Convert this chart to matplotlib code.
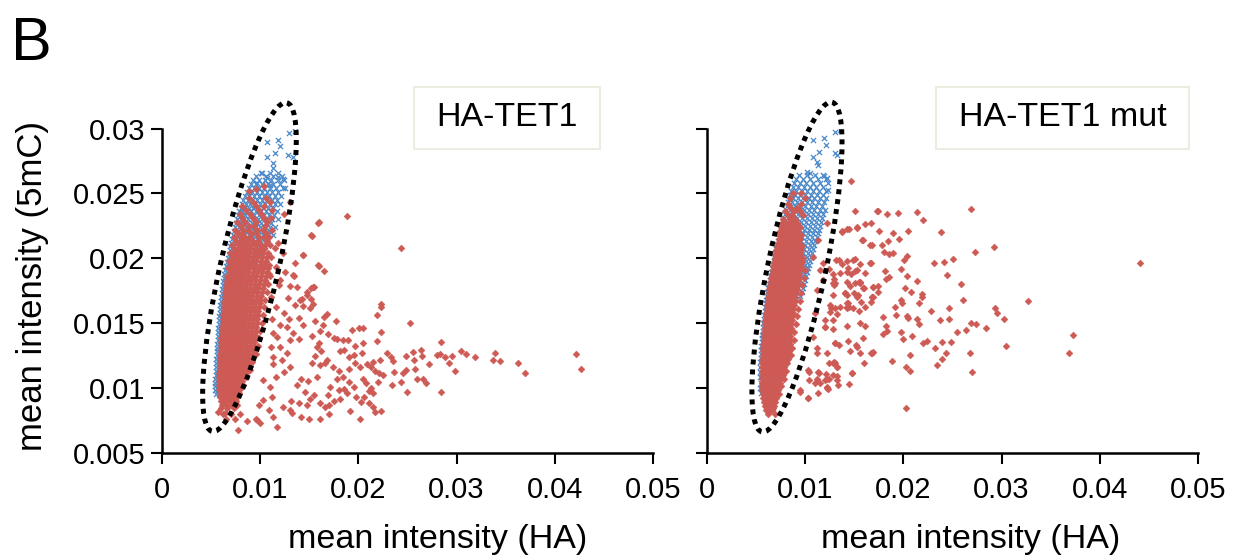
import matplotlib.pyplot as plt
from matplotlib.patches import Ellipse, Rectangle
from matplotlib.transforms import ScaledTranslation

plt.rcParams['font.family'] = ['Liberation Sans', 'DejaVu Sans']

# all intensities below are given in units of 1e-3

# ---- HA-TET1 ----
tet1_red_pts = [
    (18.8, 23.25), (15.95, 22.79), (15.17, 21.76), (24.3, 20.78), (14.39, 20.22), (15.95, 19.39),
    (16.46, 18.98), (13.47, 18.65), (15.47, 17.8), (15.2, 17.7), (13.03, 17.85), (13.78, 17.75),
    (14.73, 17.13), (14.25, 16.87), (15.13, 16.82), (13.54, 16.36), (14.39, 16.31), (15.07, 16.15),
    (15.37, 16.46), (22.26, 16.46), (22.33, 16.26), (21.92, 15.59), (16.76, 15.69), (16.53, 15.49),
    (17.71, 15.12), (25.28, 15.02), (13.91, 15.38), (14.39, 14.87), (15.61, 15.12), (16.36, 14.82),
    (20.02, 14.61), (20.5, 14.61), (19.31, 14.46), (22.26, 14.3), (16.9, 14.15), (17.51, 13.84),
    (15.27, 13.99), (16.02, 13.43), (17.78, 13.74), (18.46, 13.68), (18.94, 13.68), (28.44, 13.53),
    (20.5, 13.48), (19.68, 13.22), (18.53, 12.91), (20.36, 12.66), (19.55, 12.55), (19.0, 12.4),
    (18.12, 12.86), (21.86, 13.58), (22.87, 12.66), (23.55, 12.04), (23.28, 12.4), (24.84, 12.45),
    (25.59, 12.76), (26.4, 12.91), (25.66, 12.14), (26.47, 12.45), (27.96, 12.5), (28.3, 12.6),
    (28.78, 12.4), (29.53, 12.45), (30.48, 12.86), (30.95, 12.6), (31.9, 12.4), (33.94, 12.71),
    (33.73, 12.14), (34.41, 12.04), (36.25, 11.94), (36.99, 11.16), (42.15, 12.6), (42.63, 11.42),
    (27.22, 11.83), (29.8, 11.32), (29.19, 11.94), (21.52, 11.99), (22.19, 12.14), (20.84, 11.83),
    (21.24, 11.58), (21.65, 11.27), (22.06, 11.11), (22.47, 10.96), (17.44, 11.58), (16.56, 11.94),
    (18.05, 11.27), (19.07, 11.42), (19.68, 11.88), (20.16, 11.58), (18.39, 10.86), (17.78, 10.7),
    (23.62, 11.22), (24.5, 11.11), (24.84, 11.37), (25.79, 11.47), (25.99, 10.65), (26.61, 10.7),
    (26.88, 10.34), (24.37, 10.44), (24.91, 9.67), (23.42, 10.24), (28.37, 9.67), (20.5, 10.65),
    (20.77, 10.34), (21.24, 9.98), (21.04, 9.72), (21.99, 10.44), (21.52, 9.57), (20.57, 9.31),
    (19.0, 10.44), (19.55, 10.08), (18.53, 9.93), (18.05, 9.83), (18.8, 9.57), (19.75, 9.26),
    (20.23, 8.9), (17.1, 10.08), (16.9, 9.41), (17.51, 9.0), (18.12, 9.16), (17.04, 8.64),
    (21.11, 8.85), (21.45, 8.54), (22.33, 8.23), (21.65, 8.13), (19.14, 8.18), (20.16, 7.61),
    (15.75, 10.86), (14.86, 10.5), (14.12, 10.7), (13.78, 10.19), (14.59, 9.67), (15.47, 9.47),
    (15.07, 9.11), (16.09, 8.85), (16.56, 8.54), (14.73, 8.64), (13.91, 8.85), (13.17, 8.95),
    (13.03, 8.28), (12.35, 8.54), (13.23, 8.03), (14.18, 7.72), (15.0, 7.61), (16.09, 7.61),
    (16.97, 7.97), (11.74, 6.95), (11.33, 7.77), (9.57, 7.61), (9.98, 7.25), (8.62, 7.46),
    (12.42, 11.22), (13.03, 11.63), (12.22, 12.14), (11.33, 11.83), (11.61, 10.86), (11.0, 10.08),
    (11.2, 9.31), (10.32, 9.06), (9.91, 8.64), (10.93, 8.28), (10.32, 10.6), (12.69, 12.66),
    (12.01, 13.17), (11.67, 13.94), (13.03, 13.68), (13.91, 13.79), (13.37, 14.2), (12.69, 14.71),
    (12.01, 14.82), (11.33, 14.2), (11.06, 13.17), (11.27, 12.4), (16.09, 14.4), (15.75, 13.17),
    (16.22, 12.81), (15.61, 12.45), (15.27, 11.94), (16.09, 11.73), (16.83, 12.14), (7.77, 6.74),
    (9.64, 7.51), (6.42, 8.05), (5.74, 8.15), (15.92, 22.73), (15.25, 21.7), (14.4, 20.24),
    (15.92, 19.47), (13.38, 18.7), (13.55, 19.6), (15.41, 17.8), (14.74, 17.41), (14.06, 16.77),
    (11.8, 21.2), (12.3, 20.4), (11.6, 19.3), (12.5, 18.9), (11.9, 17.9), (12.8, 16.9),
    (11.6, 16.2), (12.4, 15.8), (11.2, 15.3), (12.9, 15.3), (11.5, 20.8), (12.0, 18.3),
    (11.1, 17.0), (10.9, 18.8), (13.0, 24.3), (12.4, 23.4), (9.6, 25.3), (8.9, 25.2), (10.4, 25.6),
]

tet1_red_core = [
    (24.6, [8.9, 10.6]),
    (24.3, [9.3, 11.0]),
    (24.0, [8.2, 9.6, 10.4]),
    (23.7, [8.6, 9.9, 11.2]),
    (23.4, [7.9, 9.0, 10.1]),
    (23.1, [8.2, 9.3, 10.4, 11.1]),
    (22.8, [7.6, 8.5, 9.6, 10.7]),
    (22.5, [8.0, 8.9, 9.4, 10.5]),
    (22.2, [7.4, 8.3, 8.8, 9.7, 10.3, 11.2]),
    (21.9, [7.7, 8.2, 9.1, 9.6, 10.6]),
    (21.6, [7.3, 8.0, 8.5, 9.0, 9.9, 10.4, 10.9]),
    (21.3, [7.5, 7.9, 8.4, 8.8, 9.3, 9.8, 10.7]),
    (21.0, [7.1, 7.8, 8.3, 8.7, 9.1, 9.6, 10.1, 10.5, 11.0]),
    (20.7, [7.4, 7.9, 8.2, 8.6, 9.0, 9.5, 10.0, 10.4]),
    (20.4, [6.9, 7.3, 7.7, 8.1, 8.5, 8.9, 9.4, 9.8, 10.3, 10.8]),
    (20.1, [7.2, 7.6, 8.0, 8.4, 8.8, 9.3, 9.7, 10.2, 10.7, 11.1]),
    (19.8, [6.8, 7.1, 7.5, 7.9, 8.3, 8.7, 9.2, 9.6, 10.1, 10.6]),
    (19.5, [7.1, 7.4, 7.8, 8.2, 8.6, 9.0, 9.5, 10.0, 10.4, 10.9]),
    (19.2, [6.7, 7.0, 7.4, 7.8, 8.1, 8.5, 8.9, 9.4, 9.9, 10.3, 10.8]),
    (18.9, [7.0, 7.3, 7.7, 8.1, 8.4, 8.8, 9.3, 9.7, 10.2, 10.7]),
    (18.6, [6.6, 6.9, 7.3, 7.6, 8.0, 8.4, 8.8, 9.2, 9.6, 10.1, 10.6, 11.0]),
    (18.3, [6.6, 6.9, 7.2, 7.6, 7.9, 8.3, 8.7, 9.1, 9.5, 10.0, 10.5]),
    (18.0, [6.5, 6.8, 7.2, 7.5, 7.9, 8.2, 8.6, 9.0, 9.5, 9.9, 10.4, 10.8]),
    (17.7, [6.5, 6.8, 7.1, 7.5, 7.8, 8.2, 8.6, 9.0, 9.4, 9.8, 10.3]),
    (17.4, [6.4, 6.7, 7.1, 7.4, 7.8, 8.1, 8.5, 8.9, 9.3, 9.7, 10.2, 10.7]),
    (17.1, [6.4, 6.7, 7.0, 7.4, 7.7, 8.1, 8.5, 8.8, 9.2, 9.7, 10.1]),
    (16.8, [6.4, 6.7, 7.0, 7.3, 7.7, 8.0, 8.4, 8.8, 9.2, 9.6, 10.0, 10.5]),
    (16.5, [6.3, 6.6, 6.9, 7.3, 7.6, 8.0, 8.4, 8.7, 9.1, 9.5, 10.0]),
    (16.2, [6.3, 6.6, 6.9, 7.2, 7.6, 7.9, 8.3, 8.7, 9.1, 9.5, 9.9, 10.4]),
    (15.9, [6.3, 6.6, 6.9, 7.2, 7.5, 7.9, 8.3, 8.6, 9.0, 9.4, 9.8]),
    (15.6, [6.2, 6.5, 6.8, 7.2, 7.5, 7.8, 8.2, 8.6, 9.0, 9.4, 9.8, 10.3]),
    (15.3, [6.2, 6.5, 6.8, 7.1, 7.5, 7.8, 8.2, 8.5, 8.9, 9.3, 9.7]),
    (15.0, [6.2, 6.5, 6.8, 7.1, 7.4, 7.8, 8.1, 8.5, 8.9, 9.3, 9.7, 10.2]),
    (14.7, [6.1, 6.4, 6.7, 7.1, 7.4, 7.7, 8.1, 8.4, 8.8, 9.2, 9.6]),
    (14.4, [6.1, 6.4, 6.7, 7.0, 7.4, 7.7, 8.0, 8.4, 8.8, 9.2, 9.6, 10.0]),
    (14.1, [6.1, 6.4, 6.7, 7.0, 7.3, 7.7, 8.0, 8.4, 8.7, 9.1, 9.5]),
    (13.8, [6.0, 6.3, 6.6, 7.0, 7.3, 7.6, 8.0, 8.3, 8.7, 9.1, 9.5, 9.9]),
    (13.5, [6.0, 6.3, 6.6, 6.9, 7.3, 7.6, 7.9, 8.3, 8.6, 9.0, 9.4]),
    (13.2, [6.0, 6.3, 6.6, 6.9, 7.2, 7.6, 7.9, 8.2, 8.6, 9.0, 9.4, 9.8]),
    (12.9, [6.0, 6.3, 6.6, 6.9, 7.2, 7.5, 7.9, 8.2, 8.6, 8.9, 9.3]),
    (12.6, [5.9, 6.2, 6.5, 6.9, 7.2, 7.5, 7.8, 8.2, 8.5, 8.9, 9.3, 9.6]),
    (12.3, [5.9, 6.2, 6.5, 6.8, 7.1, 7.5, 7.8, 8.1, 8.5, 8.8, 9.2]),
    (12.0, [5.9, 6.2, 6.5, 6.8, 7.1, 7.4, 7.8, 8.1, 8.4, 8.8, 9.2]),
    (11.7, [5.9, 6.2, 6.5, 6.8, 7.1, 7.4, 7.7, 8.1, 8.4, 8.7, 9.0]),
    (11.4, [5.9, 6.2, 6.5, 6.8, 7.1, 7.4, 7.7, 8.0, 8.3, 8.7, 9.0]),
    (11.1, [5.8, 6.1, 6.4, 6.7, 7.0, 7.3, 7.7, 8.0, 8.3, 8.6]),
    (10.8, [5.8, 6.1, 6.4, 6.7, 7.0, 7.3, 7.6, 7.9, 8.3, 8.6]),
    (10.5, [5.8, 6.1, 6.4, 6.7, 7.0, 7.3, 7.6, 7.9, 8.2]),
    (10.2, [5.8, 6.1, 6.4, 6.7, 7.0, 7.3, 7.6, 7.9, 8.3]),
    (9.9, [5.8, 6.1, 6.4, 6.7, 7.0, 7.3, 7.6, 7.9]),
    (9.6, [5.9, 6.2, 6.5, 6.8, 7.1, 7.4, 7.8]),
    (9.3, [5.9, 6.2, 6.5, 6.8, 7.2, 7.6]),
    (9.0, [6.0, 6.3, 6.7, 7.1, 7.5]),
    (8.7, [6.1, 6.5, 7.0, 7.6]),
    (8.4, [6.0, 6.6, 7.3]),
    (8.0, [6.2, 7.0, 7.9]),
    (7.6, [6.5, 7.4]),
]

tet1_blue_pts = [
    (12.97, 29.68), (13.55, 29.83), (11.85, 29.11), (10.73, 28.98), (12.87, 27.95), (13.38, 27.83),
    (11.51, 28.13), (12.02, 28.65), (10.73, 27.77), (11.34, 27.31), (11.27, 26.93), (10.15, 26.59),
    (11.85, 26.23), (12.29, 26.08), (10.66, 26.15), (9.64, 25.77), (11.0, 25.64), (12.53, 25.38),
]

tet1_blue_core = [
    (26.6, [10.1, 11.0, 11.8]),
    (26.3, [9.6, 10.6, 11.3, 12.2]),
    (26.0, [9.3, 9.9, 10.5, 11.1, 11.8, 12.4]),
    (25.7, [9.1, 9.6, 10.2, 10.8, 11.3, 12.0]),
    (25.4, [8.9, 9.4, 9.9, 10.4, 11.0, 11.6, 12.3]),
    (25.1, [8.7, 9.2, 9.7, 10.2, 10.7, 11.2, 11.8]),
    (24.8, [8.5, 8.9, 9.4, 9.9, 10.4, 10.9, 11.5, 12.1]),
    (24.5, [8.3, 8.8, 9.2, 9.7, 10.2, 10.7, 11.2, 11.7]),
    (24.2, [8.1, 8.6, 9.0, 9.5, 10.0, 10.5, 11.0, 11.5, 12.0]),
    (23.9, [8.0, 8.4, 8.9, 9.3, 9.8, 10.3, 10.8, 11.3]),
    (23.6, [7.8, 8.2, 8.7, 9.1, 9.6, 10.1, 10.6, 11.1, 11.7]),
    (23.3, [7.7, 8.1, 8.5, 9.0, 9.4, 9.9, 10.4, 10.9, 11.4]),
    (23.0, [7.6, 8.0, 8.4, 8.8, 9.3, 9.8, 10.2, 10.7, 11.2, 11.8]),
    (22.7, [7.5, 7.9, 8.3, 8.7, 9.2, 9.7, 10.1, 10.6, 11.1]),
    (22.4, [7.4, 7.8, 8.2, 8.6, 9.1, 9.5, 10.0, 10.5, 11.0, 11.5]),
    (22.1, [7.3, 7.7, 8.1, 8.5, 9.0, 9.4, 9.9, 10.4, 10.9]),
    (21.8, [7.2, 7.6, 8.0, 8.4, 8.9, 9.3, 9.8, 10.3, 10.8, 11.3]),
    (21.5, [7.1, 7.5, 7.9, 8.4, 8.8, 9.3, 9.7, 10.2, 10.7]),
    (21.2, [7.0, 7.4, 7.8, 8.3, 8.7, 9.2, 9.6, 10.1, 10.6]),
    (20.9, [6.9, 7.3, 7.7, 8.2, 8.6, 9.1, 9.6, 10.0, 10.5]),
    (20.6, [6.9, 7.2, 7.6, 8.1, 8.5, 9.0, 9.5, 10.0]),
    (20.3, [6.8, 7.1, 7.5, 8.0, 8.4, 8.9, 9.4, 9.9]),
    (20.0, [6.7, 7.0, 7.4, 7.9, 8.3, 8.8, 9.3]),
    (19.7, [6.6, 6.9, 7.3, 7.8, 8.2, 8.7, 9.2]),
    (19.4, [6.5, 6.8, 7.2, 7.7, 8.1, 8.6]),
    (19.1, [6.4, 6.8, 7.2, 7.6, 8.0, 8.5]),
    (18.8, [6.3, 6.7, 7.1, 7.5, 8.0]),
    (18.5, [6.3, 6.6, 7.0, 7.4, 7.9]),
    (18.2, [6.2, 6.5, 6.9, 7.3, 7.8]),
    (17.9, [6.2, 6.5, 6.9, 7.3]),
    (17.6, [6.1, 6.4, 6.8, 7.2]),
    (17.3, [6.1, 6.4, 6.8, 7.1]),
    (17.0, [6.0, 6.3, 6.7, 7.1]),
    (16.7, [6.0, 6.3, 6.6, 7.0]),
    (16.4, [5.9, 6.2, 6.6, 6.9]),
    (16.1, [5.9, 6.2, 6.5, 6.9]),
    (15.8, [5.9, 6.2, 6.5, 6.8]),
    (15.5, [5.8, 6.1, 6.5, 6.8]),
    (15.2, [5.8, 6.1, 6.4, 6.8]),
    (14.9, [5.8, 6.1, 6.4, 6.7]),
    (14.6, [5.7, 6.0, 6.4, 6.7]),
    (14.3, [5.7, 6.0, 6.3, 6.6]),
    (14.0, [5.7, 6.0, 6.3]),
    (13.7, [5.7, 6.0, 6.3]),
    (13.4, [5.6, 5.9, 6.2]),
    (13.1, [5.6, 5.9, 6.2]),
    (12.8, [5.6, 5.9, 6.2]),
    (12.5, [5.6, 5.9, 6.1]),
    (12.2, [5.5, 5.8, 6.1]),
    (11.9, [5.5, 5.8, 6.1]),
    (11.6, [5.5, 5.8, 6.0]),
    (11.3, [5.5, 5.8, 6.0]),
    (11.0, [5.5, 5.7, 6.0]),
    (10.7, [5.4, 5.7, 6.0]),
    (10.4, [5.4, 5.7, 5.9]),
    (10.1, [5.4, 5.7]),
    (9.8, [5.4, 5.7]),
    (9.5, [5.5, 5.8]),
]

# ---- HA-TET1 mut ----
mut_red_pts = [
    (14.66, 25.95), (15.1, 23.64), (17.44, 23.64), (18.29, 23.43), (19.45, 23.46), (21.41, 23.54),
    (26.84, 23.79), (22.02, 22.94), (23.82, 22.02), (29.22, 20.89), (27.25, 20.47), (44.08, 19.65),
    (13.71, 22.1), (14.22, 22.22), (14.49, 22.27), (15.3, 22.35), (16.08, 22.61), (16.7, 22.74),
    (17.51, 22.1), (18.9, 21.92), (20.43, 22.1), (15.75, 21.4), (16.59, 20.99), (17.82, 20.99),
    (18.46, 21.35), (19.58, 21.45), (18.02, 20.5), (18.53, 20.32), (18.97, 20.42), (15.1, 19.91),
    (15.58, 19.55), (16.59, 19.6), (13.47, 19.86), (13.78, 19.55), (14.39, 19.21), (14.63, 18.78),
    (15.07, 19.03), (20.06, 19.86), (20.33, 20.17), (23.11, 19.6), (24.13, 19.7), (25.08, 19.91),
    (19.75, 19.14), (18.12, 19.01), (18.53, 18.57), (18.22, 18.37), (20.33, 18.62), (21.41, 18.26),
    (24.4, 18.67), (25.83, 18.01), (14.22, 18.13), (15.58, 18.13), (16.02, 17.7), (16.93, 17.75),
    (17.44, 17.85), (17.37, 17.41), (16.76, 17.03), (20.16, 17.72), (20.77, 17.41), (21.86, 17.21),
    (21.92, 16.98), (19.72, 16.77), (19.89, 16.56), (21.62, 16.51), (19.14, 16.26), (19.21, 15.61),
    (20.33, 15.54), (20.43, 15.41), (21.41, 15.28), (21.58, 14.92), (22.81, 15.95), (24.67, 16.15),
    (26.1, 16.77), (23.72, 15.23), (24.64, 15.28), (26.88, 14.97), (27.39, 14.92), (28.37, 14.58),
    (29.32, 16.15), (29.49, 15.74), (30.24, 15.28), (32.72, 16.69), (37.3, 14.1), (36.89, 12.66),
    (30.41, 13.25), (17.95, 15.43), (18.22, 14.76), (18.29, 14.4), (17.95, 14.15), (19.72, 14.33),
    (19.92, 13.79), (20.84, 13.99), (22.02, 13.43), (22.43, 13.63), (23.18, 13.04), (23.89, 13.56),
    (24.3, 12.71), (23.96, 12.24), (23.38, 11.76), (24.81, 13.53), (25.49, 14.3), (26.33, 14.43),
    (26.81, 12.71), (27.01, 11.19), (20.7, 12.55), (20.26, 11.58), (20.67, 11.32), (18.87, 12.09),
    (20.23, 8.46), (15.95, 11.88), (16.66, 12.71), (16.8, 12.71), (15.58, 12.71), (15.17, 13.32),
    (15.3, 13.17), (14.56, 12.86), (14.32, 13.58), (13.47, 13.3), (13.06, 13.48), (14.73, 11.16),
    (14.49, 10.26), (13.2, 11.63), (12.93, 12.01), (13.27, 10.91), (12.18, 10.65), (12.45, 10.65),
    (12.18, 9.96), (12.35, 9.88), (12.86, 10.98), (13.37, 10.21), (11.43, 11.11), (10.38, 10.6),
    (10.38, 11.24), (10.31, 9.18), (11.23, 10.67), (12.11, 11.04), (11.5, 10.34), (9.47, 9.7),
    (16.08, 14.76), (15.58, 14.97), (14.29, 14.76), (12.01, 14.66), (12.79, 14.51), (14.49, 16.26),
    (14.9, 16.13), (14.22, 16.56), (13.54, 16.26), (13.03, 16.13), (12.59, 16.13), (12.52, 15.87),
    (15.64, 16.64), (16.08, 16.26), (15.51, 15.95), (16.8, 17.03), (16.73, 16.64), (15.34, 17.16),
    (15.0, 17.28), (14.05, 17.28), (14.22, 17.16), (14.56, 17.85), (15.07, 18.06), (15.58, 18.11),
    (12.86, 17.16), (12.96, 17.93), (14.25, 19.8), (12.86, 18.06), (12.96, 18.37), (13.54, 18.83),
    (12.86, 18.75), (12.42, 19.19), (11.84, 19.6), (16.08, 18.83), (15.24, 19.08), (13.71, 22.04),
    (15.24, 22.42), (15.85, 21.4), (16.77, 21.01), (16.67, 19.6), (14.9, 19.85), (13.14, 19.85),
    (14.22, 18.95), (15.51, 18.18), (15.92, 17.67), (16.94, 17.79), (16.87, 17.02), (15.24, 17.02),
    (14.22, 16.25), (12.02, 15.22), (12.86, 15.22), (12.53, 16.38), (14.39, 16.51), (11.17, 13.04),
    (12.19, 12.65), (12.86, 11.88), (13.2, 11.62), (13.2, 10.6), (10.32, 11.37), (11.34, 11.24),
    (11.0, 10.34), (12.02, 10.6), (12.19, 10.08), (15.92, 13.81), (16.94, 12.78), (14.73, 11.11),
    (9.47, 9.82), (10.32, 9.18), (6.41, 8.28), (6.75, 8.41), (13.03, 18.06), (14.05, 17.28),
    (14.22, 16.13), (13.27, 15.69), (12.01, 14.71), (13.03, 13.43), (12.45, 11.88), (13.03, 11.94),
    (11.27, 9.57), (11.16, 12.66), (10.82, 13.94), (10.99, 15.74), (11.16, 17.54), (11.84, 18.31),
    (11.5, 19.09), (10.82, 20.11), (11.33, 21.4), (12.18, 22.69), (17.34, 23.66),
]

mut_red_core = [
    (25.0, [8.8, 9.6]),
    (24.6, [8.5, 10.0]),
    (24.2, [8.2, 9.6]),
    (23.9, [8.6, 9.2]),
    (23.6, [7.9, 8.9, 9.5]),
    (23.3, [8.2, 8.7, 9.8]),
    (23.0, [7.7, 8.5, 9.0]),
    (22.7, [7.6, 7.9, 8.3, 8.8, 9.2]),
    (22.4, [7.5, 7.8, 8.2, 8.6, 9.0, 9.5]),
    (22.1, [7.4, 7.7, 8.1, 8.5, 8.9, 9.3]),
    (21.8, [7.3, 7.6, 8.0, 8.4, 8.8, 9.2, 9.6]),
    (21.5, [7.3, 7.6, 7.9, 8.3, 8.7, 9.1, 9.5]),
    (21.2, [7.2, 7.5, 7.8, 8.2, 8.6, 9.0, 9.4]),
    (20.9, [7.1, 7.4, 7.8, 8.1, 8.5, 8.9, 9.3, 9.7]),
    (20.6, [7.0, 7.3, 7.7, 8.0, 8.4, 8.8, 9.2, 9.6]),
    (20.3, [6.9, 7.3, 7.6, 8.0, 8.3, 8.7, 9.1, 9.5]),
    (20.0, [6.9, 7.2, 7.5, 7.9, 8.2, 8.6, 9.0, 9.4, 9.8]),
    (19.7, [6.8, 7.1, 7.5, 7.8, 8.2, 8.5, 8.9, 9.3, 9.7]),
    (19.4, [6.7, 7.0, 7.4, 7.7, 8.1, 8.4, 8.8, 9.2, 9.6]),
    (19.1, [6.7, 7.0, 7.3, 7.7, 8.0, 8.4, 8.7, 9.1, 9.5, 10.0]),
    (18.8, [6.6, 6.9, 7.2, 7.6, 7.9, 8.3, 8.7, 9.0, 9.4]),
    (18.5, [6.5, 6.8, 7.2, 7.5, 7.9, 8.2, 8.6, 9.0, 9.4, 9.9]),
    (18.2, [6.5, 6.8, 7.1, 7.5, 7.8, 8.2, 8.5, 8.9, 9.3]),
    (17.9, [6.4, 6.7, 7.0, 7.4, 7.7, 8.1, 8.5, 8.8, 9.2, 9.7]),
    (17.6, [6.3, 6.6, 7.0, 7.3, 7.7, 8.0, 8.4, 8.8, 9.2]),
    (17.3, [6.3, 6.6, 6.9, 7.3, 7.6, 8.0, 8.3, 8.7, 9.1, 9.6]),
    (17.0, [6.2, 6.5, 6.8, 7.2, 7.5, 7.9, 8.3, 8.6, 9.0]),
    (16.7, [6.2, 6.5, 6.8, 7.1, 7.5, 7.8, 8.2, 8.6, 9.0, 9.5]),
    (16.4, [6.1, 6.4, 6.7, 7.1, 7.4, 7.8, 8.1, 8.5, 8.9]),
    (16.1, [6.1, 6.4, 6.7, 7.0, 7.4, 7.7, 8.1, 8.4, 8.8, 9.3]),
    (15.8, [6.0, 6.3, 6.6, 7.0, 7.3, 7.7, 8.0, 8.4, 8.8]),
    (15.5, [6.0, 6.3, 6.6, 6.9, 7.3, 7.6, 8.0, 8.3, 8.7, 9.2]),
    (15.2, [5.9, 6.2, 6.5, 6.9, 7.2, 7.6, 7.9, 8.3, 8.7]),
    (14.9, [5.9, 6.2, 6.5, 6.8, 7.2, 7.5, 7.9, 8.2, 8.6, 9.1]),
    (14.6, [5.9, 6.2, 6.5, 6.8, 7.1, 7.5, 7.8, 8.2, 8.6]),
    (14.3, [5.8, 6.1, 6.4, 6.8, 7.1, 7.4, 7.8, 8.1, 8.5, 8.9]),
    (14.0, [5.8, 6.1, 6.4, 6.7, 7.1, 7.4, 7.7, 8.1, 8.5]),
    (13.7, [5.8, 6.1, 6.4, 6.7, 7.0, 7.4, 7.7, 8.0, 8.4, 8.9]),
    (13.4, [5.7, 6.0, 6.3, 6.7, 7.0, 7.3, 7.7, 8.0, 8.4]),
    (13.1, [5.7, 6.0, 6.3, 6.6, 7.0, 7.3, 7.6, 8.0, 8.3, 8.7]),
    (12.8, [5.7, 6.0, 6.3, 6.6, 6.9, 7.3, 7.6, 7.9, 8.3]),
    (12.5, [5.7, 6.0, 6.3, 6.6, 6.9, 7.2, 7.6, 7.9, 8.2, 8.6]),
    (12.2, [5.6, 5.9, 6.2, 6.6, 6.9, 7.2, 7.5, 7.9, 8.2]),
    (11.9, [5.6, 5.9, 6.2, 6.5, 6.9, 7.2, 7.5, 7.8, 8.1]),
    (11.6, [5.6, 5.9, 6.2, 6.5, 6.8, 7.1, 7.5, 7.8]),
    (11.3, [5.6, 5.9, 6.2, 6.5, 6.8, 7.1, 7.4, 7.7, 8.0]),
    (11.0, [5.6, 5.9, 6.2, 6.5, 6.8, 7.1, 7.4, 7.7]),
    (10.7, [5.6, 5.9, 6.2, 6.5, 6.8, 7.1, 7.4, 7.8]),
    (10.4, [5.6, 5.9, 6.2, 6.5, 6.8, 7.1, 7.4]),
    (10.1, [5.6, 5.9, 6.2, 6.5, 6.8, 7.1, 7.5]),
    (9.8, [5.6, 5.9, 6.2, 6.5, 6.8, 7.2]),
    (9.5, [5.7, 6.0, 6.3, 6.6, 6.9, 7.3]),
    (9.2, [5.7, 6.0, 6.3, 6.7, 7.0]),
    (8.9, [5.8, 6.1, 6.5, 6.9]),
    (8.6, [5.9, 6.3, 6.8]),
    (8.3, [6.0, 6.6]),
    (8.0, [6.2, 6.9]),
]

mut_blue_pts = [
    (13.03, 29.76), (13.54, 29.88), (10.83, 29.11), (11.91, 29.24), (12.12, 28.73), (11.44, 28.21),
    (10.83, 27.83), (13.03, 28.08), (13.27, 27.95), (11.17, 27.44), (11.34, 27.18), (10.15, 26.67),
    (10.49, 26.54), (11.91, 26.33), (12.19, 26.15), (12.36, 25.25),
]

mut_blue_core = [
    (26.4, [9.4, 10.2, 11.0, 11.8]),
    (26.1, [9.1, 9.8, 10.5, 11.3, 12.1]),
    (25.8, [8.9, 9.5, 10.1, 10.8, 11.5, 12.3]),
    (25.5, [8.8, 9.3, 9.9, 10.5, 11.1, 11.8]),
    (25.2, [8.6, 9.1, 9.7, 10.2, 10.8, 11.4, 12.1]),
    (24.9, [8.5, 9.0, 9.5, 10.0, 10.6, 11.2, 11.8]),
    (24.6, [8.4, 8.8, 9.3, 9.8, 10.4, 10.9, 11.5, 12.1]),
    (24.3, [8.2, 8.7, 9.2, 9.7, 10.2, 10.7, 11.3, 11.9]),
    (24.0, [8.1, 8.6, 9.0, 9.5, 10.0, 10.6, 11.1, 11.7]),
    (23.7, [8.0, 8.4, 8.9, 9.4, 9.9, 10.4, 10.9, 11.5, 12.0]),
    (23.4, [7.9, 8.3, 8.8, 9.3, 9.8, 10.3, 10.8, 11.3, 11.8]),
    (23.1, [7.8, 8.2, 8.7, 9.2, 9.7, 10.2, 10.7, 11.2, 11.7]),
    (22.8, [7.7, 8.1, 8.6, 9.1, 9.6, 10.1, 10.6, 11.1, 11.6]),
    (22.5, [7.6, 8.0, 8.5, 9.0, 9.5, 10.0, 10.5, 11.0, 11.5]),
    (22.2, [7.5, 7.9, 8.4, 8.9, 9.4, 9.9, 10.4, 10.9, 11.4]),
    (21.9, [7.4, 7.8, 8.3, 8.8, 9.3, 9.8, 10.3, 10.8, 11.3]),
    (21.6, [7.3, 7.7, 8.2, 8.7, 9.2, 9.7, 10.2, 10.7, 11.2]),
    (21.3, [7.2, 7.6, 8.1, 8.6, 9.1, 9.6, 10.1, 10.6, 11.0]),
    (21.0, [7.1, 7.5, 8.0, 8.5, 9.0, 9.5, 10.0, 10.5, 10.9]),
    (20.7, [7.0, 7.4, 7.9, 8.4, 8.9, 9.4, 9.9, 10.4, 10.8]),
    (20.4, [6.9, 7.3, 7.8, 8.3, 8.8, 9.3, 9.8, 10.3, 10.7]),
    (20.1, [6.8, 7.2, 7.7, 8.2, 8.7, 9.2, 9.7, 10.2, 10.6]),
    (19.8, [6.8, 7.2, 7.6, 8.1, 8.6, 9.1, 9.6, 10.1, 10.5]),
    (19.5, [6.7, 7.1, 7.5, 8.0, 8.5, 9.0, 9.5, 10.0, 10.4]),
    (19.2, [6.6, 7.0, 7.4, 7.9, 8.4, 8.9, 9.4, 9.9, 10.3]),
    (18.9, [6.5, 6.9, 7.3, 7.8, 8.3, 8.8, 9.3, 9.8, 10.2]),
    (18.6, [6.4, 6.8, 7.2, 7.7, 8.2, 8.7, 9.2, 9.7, 10.1]),
    (18.3, [6.4, 6.7, 7.1, 9.0, 9.5, 10.0]),
    (18.0, [6.3, 6.6, 7.0, 9.0, 9.4, 9.9]),
    (17.7, [6.2, 6.5, 6.9, 8.8, 9.3, 9.8]),
    (17.4, [6.1, 6.4, 6.8, 9.2, 9.7]),
    (17.1, [6.1, 6.4, 6.7, 9.1, 9.5]),
    (16.8, [6.0, 6.3, 6.6, 9.0]),
    (16.5, [6.0, 6.3, 6.6]),
    (16.2, [5.9, 6.2, 6.5]),
    (15.9, [5.9, 6.2, 6.5]),
    (15.6, [5.8, 6.1, 6.4]),
    (15.3, [5.8, 6.1, 6.4]),
    (15.0, [5.7, 6.0, 6.3]),
    (14.7, [5.7, 6.0]),
    (14.4, [5.7, 6.0]),
    (14.1, [5.6, 5.9]),
    (13.8, [5.6, 5.9]),
    (13.5, [5.6, 5.9]),
    (13.2, [5.5, 5.8]),
    (12.9, [5.5, 5.8]),
    (12.6, [5.5, 5.8]),
    (12.3, [5.5]),
    (12.0, [5.4, 5.7]),
    (11.6, [5.4]),
    (11.2, [5.4, 5.7]),
    (10.8, [5.4]),
    (10.4, [5.5]),
    (10.0, [5.4]),
    (9.6, [5.5]),
]

panel_titles = ['HA-TET1', 'HA-TET1 mut']
x_ticks = [0, 0.01, 0.02, 0.03, 0.04, 0.05]
x_ticklabels = ['0', '0.01', '0.02', '0.03', '0.04', '0.05']
y_ticks = [0.005, 0.01, 0.015, 0.02, 0.025, 0.03]
y_ticklabels = ['0.005', '0.01', '0.015', '0.02', '0.025', '0.03']
# dotted ellipse: centre in data units, tilt in degrees
ellipse_centres = [(0.00891, 0.01931), (0.00916, 0.01931)]
ellipse_angles = [77.2, 78.0]

RED = '#cd5a54'
BLUE = '#4a89c9'


def unpack(pts, rows):
    xs = [p[0] * 1e-3 for p in pts]
    ys = [p[1] * 1e-3 for p in pts]
    for y, row in rows:
        for x in row:
            xs.append(x * 1e-3)
            ys.append(y * 1e-3)
    return xs, ys


fig = plt.figure(figsize=(12.43, 5.59), dpi=100)
ax1 = fig.add_axes([0.1303, 0.1905, 0.3950, 0.5796])
ax2 = fig.add_axes([0.5688, 0.1905, 0.3950, 0.5796])

panels = [
    (ax1, tet1_blue_pts, tet1_blue_core, tet1_red_pts, tet1_red_core),
    (ax2, mut_blue_pts, mut_blue_core, mut_red_pts, mut_red_core),
]

for i, (ax, bp, bc, rp, rc) in enumerate(panels):
    bx, by = unpack(bp, bc)
    rx, ry = unpack(rp, rc)
    ax.scatter(bx, by, marker='x', s=14, linewidths=0.9, color=BLUE, zorder=2)
    ax.scatter(rx, ry, marker='D', s=12, linewidths=0.4, color=RED, zorder=3)

    ax.set_xlim(0, 0.05)
    ax.set_ylim(0.005, 0.03)
    ax.set_xticks(x_ticks)
    ax.set_yticks(y_ticks)
    ax.set_xticklabels(x_ticklabels)
    if i == 0:
        ax.set_yticklabels(y_ticklabels)
    else:
        ax.set_yticklabels([])
    for s in ['top', 'right']:
        ax.spines[s].set_visible(False)
    for s in ['left', 'bottom']:
        ax.spines[s].set_linewidth(1.8)
    ax.tick_params(direction='out', length=8, width=1.5, labelsize=21)
    ax.tick_params(axis='x', pad=9)
    ax.tick_params(axis='y', pad=4)

    cx, cy = ellipse_centres[i]
    ell = Ellipse((0, 0), 3.37, 0.58, angle=ellipse_angles[i], fill=False,
                  edgecolor='black', linewidth=3.6, linestyle=(0, (1, 1)),
                  transform=fig.dpi_scale_trans + ScaledTranslation(cx, cy, ax.transData),
                  clip_on=False, zorder=5)
    ax.add_patch(ell)

# label boxes
box_specs = [(414, 186), (936, 253)]
for (bx0, bw), title in zip(box_specs, panel_titles):
    fig.patches.append(Rectangle((bx0 / 1243, 1 - 149 / 559), bw / 1243, 62 / 559,
                                 transform=fig.transFigure, facecolor='white',
                                 edgecolor='#ecede2', linewidth=1.5))
    fig.text((bx0 + bw / 2) / 1243, 1 - 118 / 559, title, fontsize=24.5,
             ha='center', va='center')

fig.text(437.5 / 1243, 1 - 548 / 559, 'mean intensity (HA)', fontsize=24.5,
         ha='center', va='baseline')
fig.text(970.5 / 1243, 1 - 548 / 559, 'mean intensity (HA)', fontsize=24.5,
         ha='center', va='baseline')
fig.text(33 / 1243, 1 - 286 / 559, 'mean intensity (5mC)', fontsize=25,
         rotation=90, ha='center', va='center')
fig.text(0.009, 1 - 60 / 559, 'B', fontsize=44, ha='left', va='baseline')

fig.savefig('out.png', dpi=100)
